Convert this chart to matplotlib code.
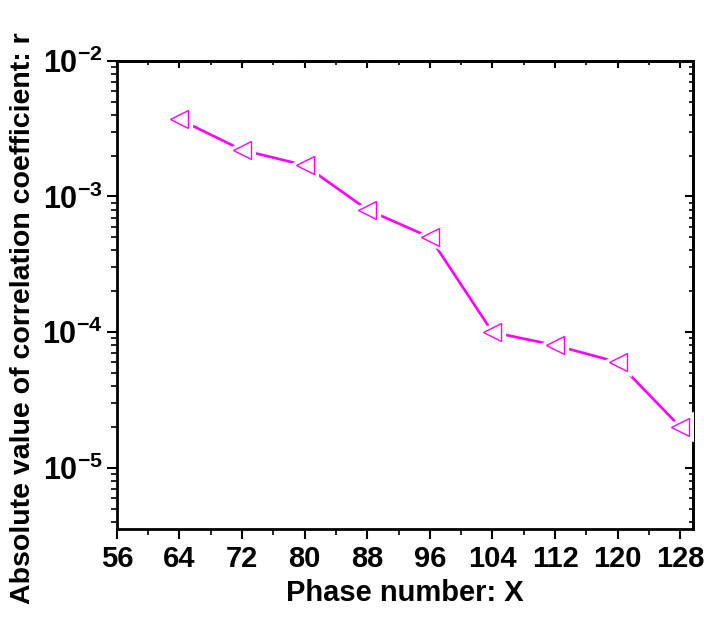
import numpy as np
import matplotlib
matplotlib.use('Agg')
import matplotlib.pyplot as plt
from matplotlib.ticker import LogLocator, FixedLocator, NullFormatter

plt.rcParams['font.family'] = ['Liberation Sans', 'DejaVu Sans']
plt.rcParams['font.weight'] = 'bold'
plt.rcParams['mathtext.fontset'] = 'custom'
plt.rcParams['mathtext.rm'] = 'Liberation Sans:bold'
plt.rcParams['mathtext.bf'] = 'Liberation Sans:bold'

# data
phase = [64, 72, 80, 88, 96, 104, 112, 120, 128]
corr = [3.7e-3, 2.2e-3, 1.7e-3, 8.0e-4, 5.0e-4, 1.0e-4, 8.0e-5, 6.0e-5, 2.0e-5]
xticks = [56, 64, 72, 80, 88, 96, 104, 112, 120, 128]
yticks = [1e-5, 1e-4, 1e-3, 1e-2]
ytick_labels = [r'$\mathbf{10^{-5}}$', r'$\mathbf{10^{-4}}$', r'$\mathbf{10^{-3}}$', r'$\mathbf{10^{-2}}$']

col = '#ff00ff'

fig = plt.figure(figsize=(7.04, 6.34), dpi=100)
ax = fig.add_axes([0.166, 0.166, 0.818, 0.738])

ax.plot(phase, corr, '-', color=col, lw=1.9, zorder=2)
# white halo so the line stops short of each marker
ax.plot(phase, corr, '<', ms=17, mfc='white', mec='white', mew=3, ls='none', zorder=3)
ax.plot(phase, corr, '<', ms=13, mfc='white', mec=col, mew=1.0, ls='none', zorder=4)

ax.set_yscale('log')
ax.set_xlim(56, 129.6)
ax.set_ylim(3.55e-6, 1e-2)

ax.xaxis.set_major_locator(FixedLocator(xticks))
ax.xaxis.set_minor_locator(FixedLocator([x + 4 for x in xticks]))
ax.set_xticklabels([str(x) for x in xticks])
ax.yaxis.set_major_locator(FixedLocator(yticks))
ax.set_yticklabels(ytick_labels)
ax.yaxis.set_minor_locator(LogLocator(base=10, subs=np.arange(2, 10)))
ax.yaxis.set_minor_formatter(NullFormatter())

ax.tick_params(axis='both', which='major', direction='out', length=7, width=1.5,
               top=False, right=False)
ax.tick_params(axis='both', which='minor', direction='out', length=4, width=1.2,
               top=False, right=False)
ax.tick_params(axis='x', labelsize=21, pad=5)
ax.tick_params(axis='y', labelsize=22, pad=3)

# inward ticks on top and right spines
sec_x = ax.secondary_xaxis('top')
sec_x.xaxis.set_major_locator(FixedLocator(xticks))
sec_x.xaxis.set_minor_locator(FixedLocator([x + 4 for x in xticks]))
sec_x.tick_params(which='major', direction='in', length=5, width=1.5, labeltop=False)
sec_x.tick_params(which='minor', direction='in', length=3, width=1.2)
sec_x.spines['top'].set_linewidth(2)
sec_y = ax.secondary_yaxis('right')
sec_y.set_yscale('log')
sec_y.yaxis.set_major_locator(FixedLocator(yticks))
sec_y.yaxis.set_minor_locator(LogLocator(base=10, subs=np.arange(2, 10)))
sec_y.yaxis.set_minor_formatter(NullFormatter())
sec_y.tick_params(which='major', direction='in', length=6, width=1.5, labelright=False)
sec_y.tick_params(which='minor', direction='in', length=3, width=1.2)
sec_y.spines['right'].set_linewidth(2)

for s in ax.spines.values():
    s.set_linewidth(2)

ax.set_xlabel('Phase number: X', fontsize=21, fontweight='bold', labelpad=4)
ax.set_ylabel('Absolute value of correlation coefficient: r', fontsize=20.5,
              fontweight='bold')
ax.yaxis.set_label_coords(-0.14, 0.45)

fig.savefig('out.png', dpi=100)
